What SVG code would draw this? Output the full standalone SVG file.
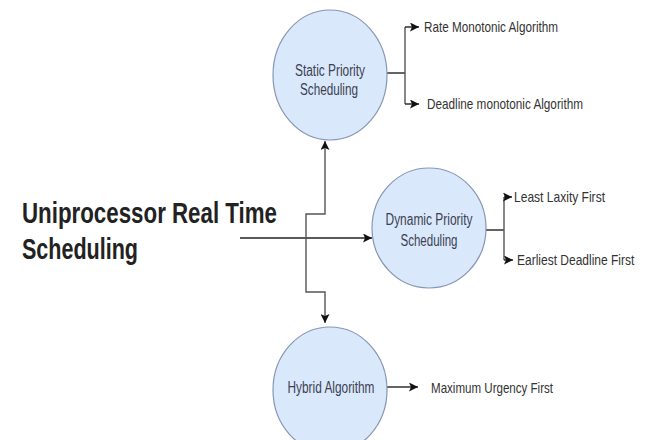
<svg xmlns="http://www.w3.org/2000/svg" width="647" height="440" viewBox="0 0 647 440">
<style>
.node ellipse{fill:#dae8fc;stroke:#8797b3;stroke-width:1.2}
.ntext{font-family:"Liberation Sans",Arial,sans-serif;font-size:16px;fill:#3a4150;text-anchor:middle}
.label{font-family:"Liberation Sans",Arial,sans-serif;font-size:15px;fill:#333}
.title{font-family:"Liberation Sans",Arial,sans-serif;font-size:30px;font-weight:bold;fill:#222}
.conn path{fill:none;stroke:#222;stroke-width:1.4}
.conn path.gray{stroke:#555}
</style>
<defs>
<marker id="arr" markerWidth="10" markerHeight="9" refX="9" refY="4.5" orient="auto" markerUnits="userSpaceOnUse">
<path d="M0,0 L9,4.5 L0,9 L2,4.5 Z" fill="#111"/>
</marker>
</defs>
<rect width="647" height="440" fill="#fff"/>

<g id="title">
<text class="title" x="22" y="223" textLength="255" lengthAdjust="spacingAndGlyphs">Uniprocessor Real Time</text>
<text class="title" x="22" y="259" textLength="116" lengthAdjust="spacingAndGlyphs">Scheduling</text>
</g>

<g class="conn" id="connectors">
<path d="M240 238 H372" marker-end="url(#arr)"/>
<path class="gray" d="M306 238 V214 H325 V141" marker-end="url(#arr)"/>
<path class="gray" d="M306 238 V292 H325 V323" marker-end="url(#arr)"/>
<path d="M387 73 H405"/>
<path class="gray" d="M405 27 V104"/>
<path d="M405 27 H419" marker-end="url(#arr)"/>
<path d="M405 104 H419" marker-end="url(#arr)"/>
<path d="M486 230 H504"/>
<path class="gray" d="M504 197 V260"/>
<path d="M504 197 H512" marker-end="url(#arr)"/>
<path d="M504 260 H513" marker-end="url(#arr)"/>
<path d="M387 387 H418" marker-end="url(#arr)"/>
</g>

<g class="node" id="static">
<ellipse cx="330" cy="75" rx="57" ry="65"/>
<text class="ntext" x="330" y="76" textLength="70" lengthAdjust="spacingAndGlyphs">Static Priority</text>
<text class="ntext" x="329" y="95" textLength="58" lengthAdjust="spacingAndGlyphs">Scheduling</text>
</g>

<g class="node" id="dynamic">
<ellipse cx="429" cy="228" rx="57" ry="60"/>
<text class="ntext" x="429" y="225" textLength="87" lengthAdjust="spacingAndGlyphs">Dynamic Priority</text>
<text class="ntext" x="429" y="246" textLength="57" lengthAdjust="spacingAndGlyphs">Scheduling</text>
</g>

<g class="node" id="hybrid">
<ellipse cx="330" cy="390" rx="57" ry="63"/>
<text class="ntext" x="331" y="393" textLength="87" lengthAdjust="spacingAndGlyphs">Hybrid Algorithm</text>
</g>

<g id="labels">
<text class="label" x="424" y="32" textLength="134" lengthAdjust="spacingAndGlyphs">Rate Monotonic Algorithm</text>
<text class="label" x="427" y="109" textLength="156" lengthAdjust="spacingAndGlyphs">Deadline monotonic Algorithm</text>
<text class="label" x="514" y="202" textLength="91" lengthAdjust="spacingAndGlyphs">Least Laxity First</text>
<g transform="translate(517,265) scale(0.8,1)">
<text class="label" x="0" y="0">Earliest Deadline First</text>
</g>
<text class="label" x="431" y="393" textLength="122" lengthAdjust="spacingAndGlyphs">Maximum Urgency First</text>
</g>
</svg>
